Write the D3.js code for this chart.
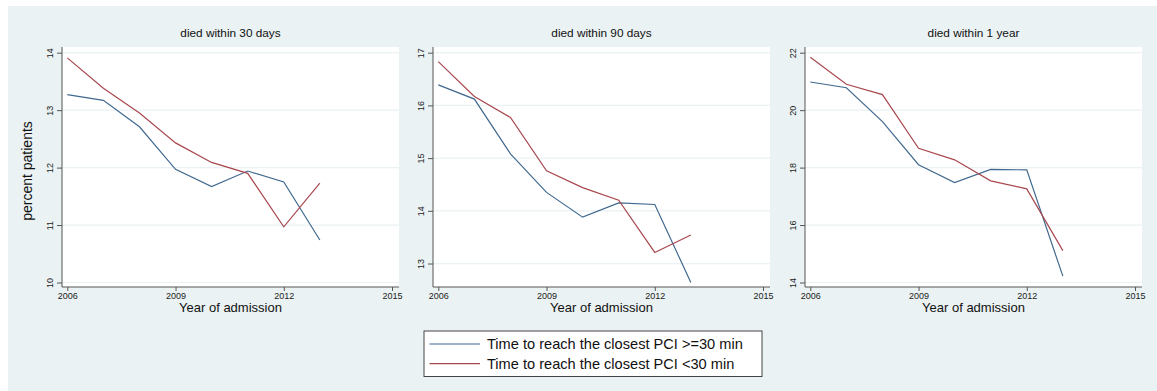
<!DOCTYPE html>
<html>
<head>
<meta charset="utf-8">
<script src="https://cdn.jsdelivr.net/npm/d3@7"></script>
<style>
  body { margin: 0; background: #fff; }
  svg { display: block; font-family: "Liberation Sans", Arial, sans-serif; }
</style>
</head>
<body>
<svg id="chart" width="1157" height="391"></svg>
<script>
// data
const years = [2006, 2007, 2008, 2009, 2010, 2011, 2012, 2013];
const xTicks = [2006, 2009, 2012, 2015];
const panelTitles = ['died within 30 days', 'died within 90 days', 'died within 1 year'];
const seriesNames = ['Time to reach the closest PCI >=30 min', 'Time to reach the closest PCI <30 min'];

const far30 = [13.27, 13.17, 12.71, 11.97, 11.67, 11.94, 11.75, 10.74];
const near30 = [13.91, 13.38, 12.95, 12.43, 12.09, 11.90, 10.97, 11.73];
const far90 = [16.39, 16.12, 15.08, 14.35, 13.88, 14.15, 14.12, 12.64];
const near90 = [16.83, 16.17, 15.77, 14.76, 14.44, 14.20, 13.21, 13.54];
const far1y = [20.98, 20.78, 19.60, 18.10, 17.48, 17.94, 17.92, 14.22];
const near1y = [21.84, 20.90, 20.54, 18.67, 18.27, 17.54, 17.26, 15.11];

const yTicks30 = [10, 11, 12, 13, 14];
const yTicks90 = [13, 14, 15, 16, 17];
const yTicks1y = [14, 16, 18, 20, 22];

const colors = ['#41698f', '#a8484f'];

const panels = [
    { title: panelTitles[0], series: [far30, near30], ticks: yTicks30, left: 62 },
    { title: panelTitles[1], series: [far90, near90], ticks: yTicks90, left: 433 },
    { title: panelTitles[2], series: [far1y, near1y], ticks: yTicks1y, left: 805 },
];

const svg = d3.select('#chart');
const plotW = 337;
const plotTop = 47;
const plotBottom = 287;

// graph region background
svg.append('rect')
    .attr('x', 8).attr('y', 6)
    .attr('width', 1157 - 8).attr('height', 391 - 6)
    .attr('fill', '#eaf2f3');

panels.forEach((p) => {
    const g = svg.append('g').attr('transform', `translate(${p.left}, 0)`);

    const x = d3.scaleLinear().domain([2006, 2015]).range([5.3, plotW - 7]);
    const all = p.series.flat().concat(p.ticks);
    const y = d3.scaleLinear().domain(d3.extent(all)).range([282.5, 52.7]);

    g.append('rect')
        .attr('x', 0).attr('y', plotTop)
        .attr('width', plotW).attr('height', plotBottom - plotTop)
        .attr('fill', '#fff');

    // gridlines
    g.selectAll('.grid')
        .data(p.ticks)
        .enter()
        .append('line')
        .attr('x1', 0).attr('x2', plotW)
        .attr('y1', (d) => y(d)).attr('y2', (d) => y(d))
        .attr('stroke', '#eaf2f3')
        .attr('stroke-width', 1.2);

    // y axis
    const yAxis = d3.axisLeft(y).tickValues(p.ticks).tickFormat(d3.format('d'))
        .tickSize(5).tickSizeOuter(0).tickPadding(3);
    const yg = g.append('g').call(yAxis);
    yg.select('.domain').remove();
    yg.append('line')
        .attr('x1', 0).attr('x2', 0)
        .attr('y1', plotTop).attr('y2', plotBottom)
        .attr('stroke', '#555');
    yg.selectAll('.tick line').attr('stroke', '#555');
    yg.selectAll('.tick text')
        .attr('font-size', 9)
        .attr('fill', '#222')
        .attr('x', null).attr('dy', null)
        .attr('text-anchor', 'middle')
        .attr('transform', 'translate(-9, 0) rotate(-90)')
        .attr('y', 0);

    // x axis
    const xAxis = d3.axisBottom(x).tickValues(xTicks).tickFormat(d3.format('d'))
        .tickSize(4).tickSizeOuter(0).tickPadding(2);
    const xg = g.append('g').attr('transform', `translate(0, ${plotBottom})`).call(xAxis);
    xg.select('.domain').remove();
    xg.append('line')
        .attr('x1', 0).attr('x2', plotW)
        .attr('y1', 0).attr('y2', 0)
        .attr('stroke', '#555');
    xg.selectAll('.tick line').attr('stroke', '#555');
    xg.selectAll('.tick text').attr('font-size', 9).attr('fill', '#222');

    // lines
    const line = d3.line()
        .x((d, j) => x(years[j]))
        .y((d) => y(d));
    p.series.forEach((s, k) => {
        g.append('path')
            .datum(s)
            .attr('d', line)
            .attr('fill', 'none')
            .attr('stroke', colors[k])
            .attr('stroke-width', 1.2);
    });

    g.append('text')
        .attr('x', plotW / 2).attr('y', 37)
        .attr('text-anchor', 'middle')
        .attr('font-size', 11.8)
        .attr('fill', '#111')
        .text(p.title);

    g.append('text')
        .attr('x', plotW / 2).attr('y', 312)
        .attr('text-anchor', 'middle')
        .attr('font-size', 13)
        .attr('fill', '#111')
        .text('Year of admission');
});

svg.append('text')
    .attr('transform', 'translate(32, 171) rotate(-90)')
    .attr('text-anchor', 'middle')
    .attr('font-size', 14)
    .attr('fill', '#111')
    .text('percent patients');

// legend
const legend = svg.append('g').attr('transform', 'translate(424, 331)');
legend.append('rect')
    .attr('width', 338).attr('height', 45.5)
    .attr('fill', '#fff')
    .attr('stroke', '#444');
seriesNames.forEach((name, k) => {
    const ly = 13 + k * 19.7;
    legend.append('line')
        .attr('x1', 5.5).attr('x2', 56)
        .attr('y1', ly).attr('y2', ly)
        .attr('stroke', colors[k])
        .attr('stroke-width', 1.2);
    legend.append('text')
        .attr('x', 63).attr('y', ly + 5)
        .attr('font-size', 14.6)
        .attr('fill', '#111')
        .text(name);
});
</script>
</body>
</html>
